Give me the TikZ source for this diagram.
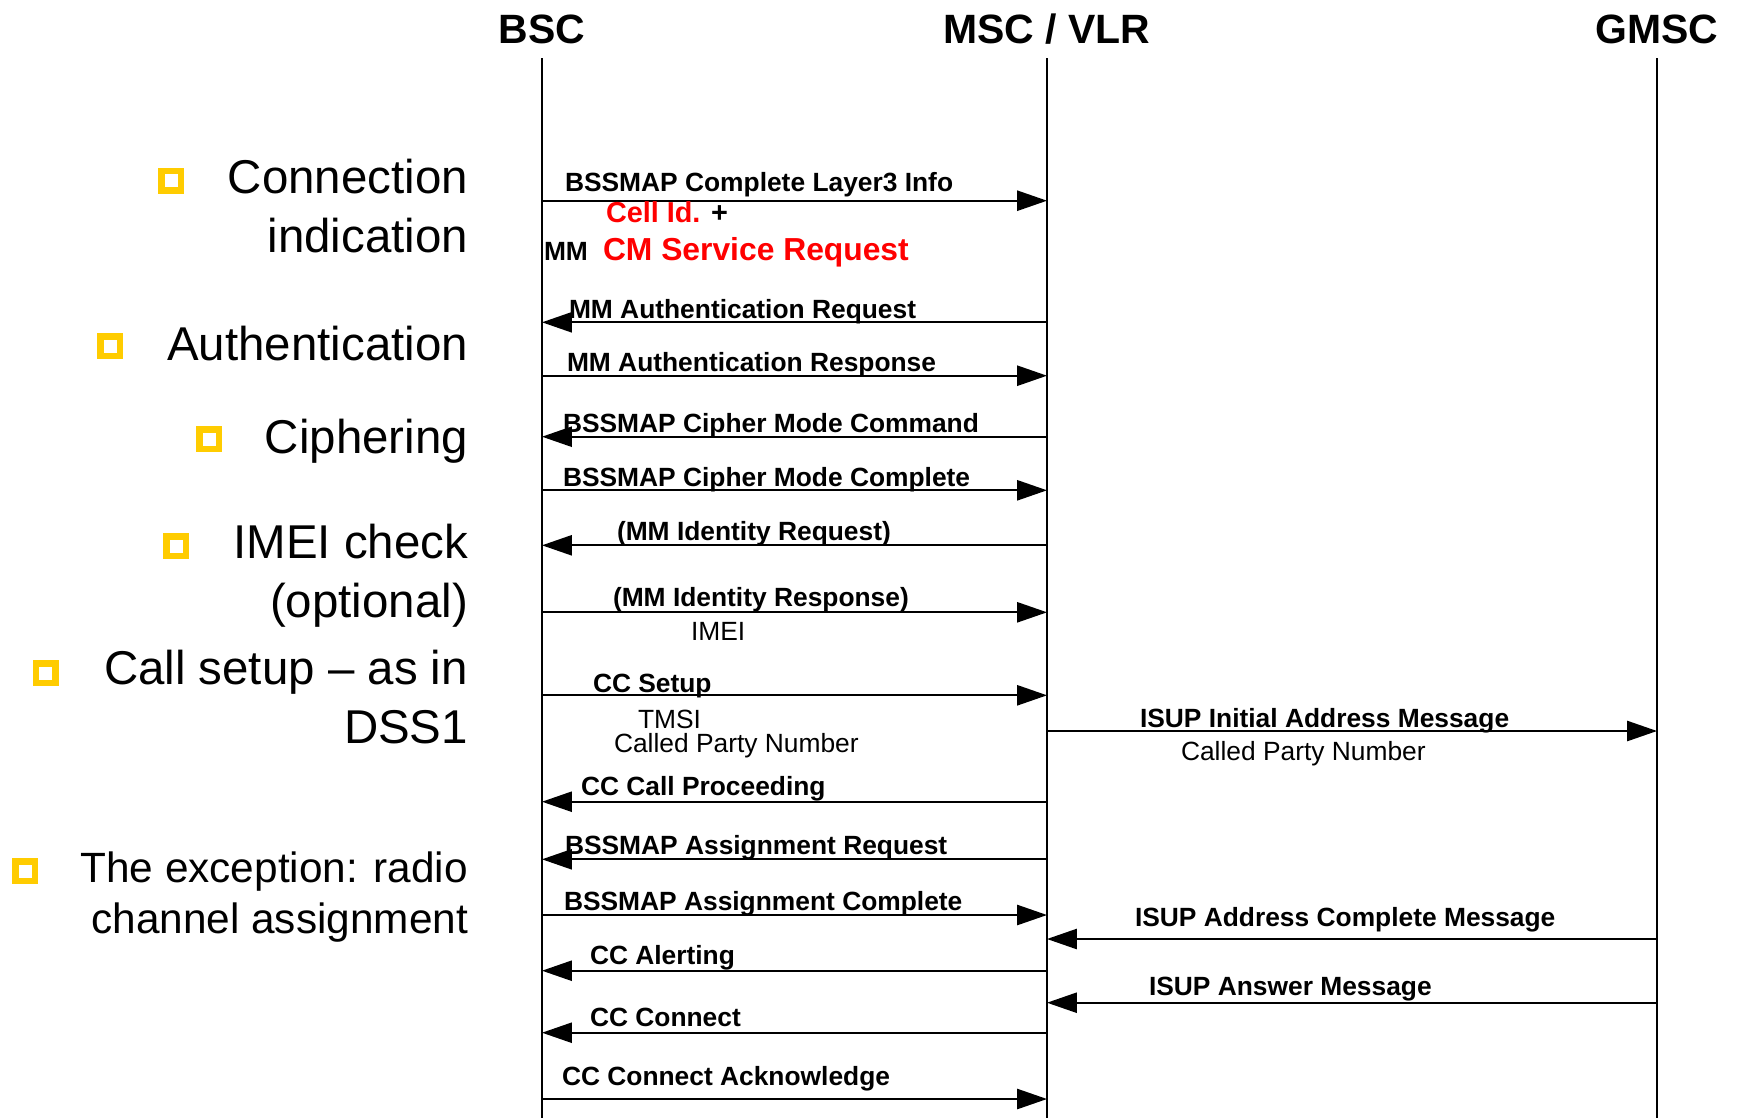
\documentclass[tikz,border=0pt]{standalone}
\usepackage{fontspec}
\setmainfont{Liberation Sans}
\usetikzlibrary{arrows.meta}
\definecolor{bulletgold}{HTML}{FFCC00}
\definecolor{msgred}{HTML}{FF0000}

\begin{document}
\begin{tikzpicture}[x=0.2mm, y=-0.2mm,
    every node/.style={inner sep=0pt, outer sep=0pt},
    titulo/.style={font=\bfseries\fontsize{23.3}{27}\selectfont, anchor=base},
    topico/.style={font=\fontsize{27}{33.4}\selectfont, align=right, anchor=base east},
    bullet/.style={draw=bulletgold, line width=1.3mm, minimum size=3.9mm},
    msg/.style={line width=1pt, -{Triangle[length=17pt,width=11.5pt]}},
    rotulo/.style={font=\bfseries\fontsize{15}{18}\selectfont, anchor=base west},
    param/.style={font=\fontsize{15}{18}\selectfont, anchor=base west}]

  \useasboundingbox (0,0) rectangle (1737,1118);

  % 1. Entidades e linhas de vida
  \foreach \n/\x/\t in {bsc/542/BSC, msc/1047/{MSC / VLR}, gmsc/1657/GMSC} {
    \node[titulo] (\n) at (\x,43.3) {\t};
    \draw[line width=1pt] (\n |- 0,58) -- (\n |- 0,1118);
  }

  % 2. Topicos a esquerda (base = ultima linha)
  \foreach \i/\x/\y in {1/171/180.5, 2/110/346, 3/209/439, 4/176/546, 5/45.5/673, 6/25/871}
    \node[bullet] (b\i) at (\x,\y) {};

  \node[topico] (t1) at (468,252) {Connection\\indication};
  \node[topico] (t2) at (468,360) {Authentication};
  \node[topico] (t3) at (468,453) {Ciphering};
  \node[topico] (t4) at (468,617) {IMEI check\\(optional)};
  \node[topico] (t5) at (468,743) {Call setup -- as in\\DSS1};
  \node[topico, font=\fontsize{24.1}{29}\selectfont] (t6) at (468,933) {The exception: radio\\channel assignment};

  % 3. Mensagens BSC <-> MSC
  \draw[msg] (bsc |- 0,200.7) -- (msc |- 0,200.7);
  \node[rotulo] (m1) at (565,191.7) {BSSMAP Complete Layer3 Info};
  \node[rotulo, font=\bfseries\fontsize{16.4}{20}\selectfont] (cellid) at (606,222.7) {\textcolor{msgred}{Cell Id.} +};
  \node[rotulo] (mm) at (544,260) {MM};
  \node[rotulo, font=\bfseries\fontsize{18.1}{22}\selectfont, text=msgred] (cmreq) at (603,260) {CM Service Request};

  \draw[msg] (msc |- 0,322.3) -- (bsc |- 0,322.3);
  \node[rotulo] (m2) at (569,318.3) {MM Authentication Request};

  \draw[msg] (bsc |- 0,375.7) -- (msc |- 0,375.7);
  \node[rotulo] (m3) at (567,371.7) {MM Authentication Response};

  \draw[msg] (msc |- 0,436.7) -- (bsc |- 0,436.7);
  \node[rotulo] (m4) at (563,432.3) {BSSMAP Cipher Mode Command};

  \draw[msg] (bsc |- 0,490.3) -- (msc |- 0,490.3);
  \node[rotulo] (m5) at (563,486) {BSSMAP Cipher Mode Complete};

  \draw[msg] (msc |- 0,545.3) -- (bsc |- 0,545.3);
  \node[rotulo] (m6) at (617,540.7) {(MM Identity Request)};

  \draw[msg] (bsc |- 0,612.3) -- (msc |- 0,612.3);
  \node[rotulo] (m7) at (613,606.7) {(MM Identity Response)};
  \node[param] (imei) at (691,640.7) {IMEI};

  \draw[msg] (bsc |- 0,695.3) -- (msc |- 0,695.3);
  \node[rotulo] (m8) at (593,692.3) {CC Setup};
  \node[param] (tmsi) at (638,728.3) {TMSI};
  \node[param] (cpn1) at (614,752.3) {Called Party Number};

  \draw[msg] (msc |- 0,801.7) -- (bsc |- 0,801.7);
  \node[rotulo] (m10) at (581,795) {CC Call Proceeding};

  \draw[msg] (msc |- 0,859.3) -- (bsc |- 0,859.3);
  \node[rotulo] (m11) at (565,854) {BSSMAP Assignment Request};

  \draw[msg] (bsc |- 0,915) -- (msc |- 0,915);
  \node[rotulo] (m12) at (564,910) {BSSMAP Assignment Complete};

  \draw[msg] (msc |- 0,970.7) -- (bsc |- 0,970.7);
  \node[rotulo] (m14) at (590,964) {CC Alerting};

  \draw[msg] (msc |- 0,1032.7) -- (bsc |- 0,1032.7);
  \node[rotulo] (m16) at (590,1026.7) {CC Connect};

  \draw[msg] (bsc |- 0,1099) -- (msc |- 0,1099);
  \node[rotulo] (m17) at (562,1085) {CC Connect Acknowledge};

  % 4. Mensagens MSC <-> GMSC
  \draw[msg] (msc |- 0,731) -- (gmsc |- 0,731);
  \node[rotulo] (m9) at (1140,727.7) {ISUP Initial Address Message};
  \node[param] (cpn2) at (1181,760) {Called Party Number};

  \draw[msg] (gmsc |- 0,939) -- (msc |- 0,939);
  \node[rotulo] (m13) at (1135,926.7) {ISUP Address Complete Message};

  \draw[msg] (gmsc |- 0,1002.7) -- (msc |- 0,1002.7);
  \node[rotulo] (m15) at (1149,995) {ISUP Answer Message};

\end{tikzpicture}
\end{document}
